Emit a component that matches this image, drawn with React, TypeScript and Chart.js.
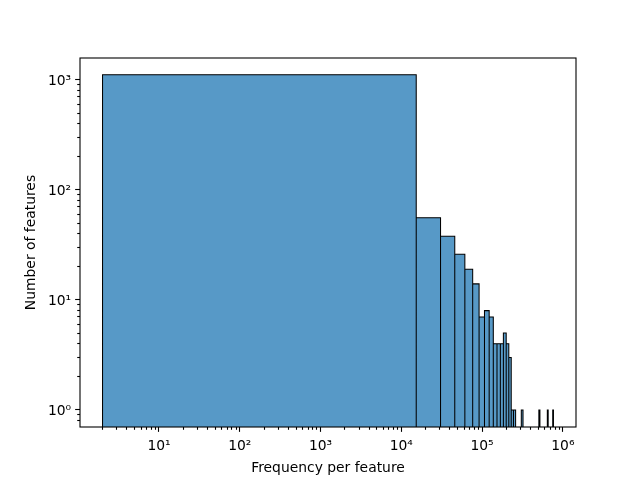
import React, { useEffect, useRef } from "react";
import { Chart, registerables } from "chart.js";

Chart.register(...registerables);

// Histogram: equal-width bins (linear) shown on a log x axis
const binStart = 2;
const binWidth = 15300;
const counts = [
  1115, 56, 38, 26, 19, 14, 7, 8, 7, 4,
  4, 4, 5, 4, 3, 1, 1, 0, 0, 0,
  1, 0, 0, 0, 0, 0, 0, 0, 0, 0,
  0, 0, 0, 1, 0, 0, 0, 0, 0, 0,
  0, 0, 1, 0, 0, 0, 0, 0, 0, 1,
];

const xMajorTicks = [1e1, 1e2, 1e3, 1e4, 1e5, 1e6];
const xTickLabels = ["10¹", "10²", "10³", "10⁴", "10⁵", "10⁶"];
const yMajorTicks = [1, 10, 100, 1000];
const yTickLabels = ["10⁰", "10¹", "10²", "10³"];
const xMinorDecades = [1, 10, 100, 1000, 10000, 100000];
const yMinorDecades = [0.1, 1, 10, 100];
const minorMultipliers = [2, 3, 4, 5, 6, 7, 8, 9];

const xMin = 1.052;
const xMax = 1.455e6;
const yMin = 0.705;
const yMax = 1583;

const FONT = "'DejaVu Sans', sans-serif";
const FS = 13.89;

function minorTicks(decades: number[], lo: number, hi: number) {
  const out: number[] = [];
  decades.forEach((d) => minorMultipliers.forEach((m) => {
    const v = m * d;
    if (v >= lo && v <= hi) out.push(v);
  }));
  return out;
}

const framePlugin = {
  id: "frame",
  afterDatasetsDraw(chart: any) {
    const { ctx, chartArea } = chart;
    ctx.save();
    ctx.strokeStyle = "#000";
    ctx.lineWidth = 1.1;
    ctx.strokeRect(chartArea.left, chartArea.top, chartArea.right - chartArea.left, chartArea.bottom - chartArea.top);
    ctx.restore();
  },
};

export default function App() {
  const ref = useRef<HTMLCanvasElement | null>(null);

  useEffect(() => {
    if (!ref.current) return;
    const floor = 0.01;
    const pts: { x: number; y: number }[] = [];
    counts.forEach((c, i) => {
      if (c <= 0) return;
      const x0 = binStart + i * binWidth;
      const x1 = x0 + binWidth;
      pts.push({ x: x0, y: floor }, { x: x0, y: c }, { x: x1, y: c }, { x: x1, y: floor });
    });

    const xMinor = minorTicks(xMinorDecades, xMin, xMax);
    const yMinor = minorTicks(yMinorDecades, yMin, yMax);

    const tickGrid = (len: number) => ({
      display: true,
      drawOnChartArea: false,
      drawTicks: true,
      tickLength: len,
      tickColor: "#000",
      tickWidth: 1.1,
    });

    const chart = new Chart(ref.current, {
      type: "line",
      data: {
        datasets: [
          {
            data: pts,
            xAxisID: "x",
            yAxisID: "y",
            borderColor: "#000",
            borderWidth: 1.04,
            backgroundColor: "rgba(31,119,180,0.75)",
            fill: "start",
            pointRadius: 0,
            tension: 0,
            borderJoinStyle: "miter",
          } as any,
        ],
      },
      options: {
        animation: false,
        responsive: false,
        devicePixelRatio: 1,
        layout: { padding: { left: 0, right: 64, top: 58, bottom: 0 } },
        plugins: { legend: { display: false }, tooltip: { enabled: false } },
        scales: {
          x: {
            type: "logarithmic",
            position: "bottom",
            weight: 1,
            min: xMin,
            max: xMax,
            afterBuildTicks: (s: any) => { s.ticks = xMajorTicks.map((v) => ({ value: v })); },
            afterFit: (s: any) => { s.height = 53; },
            grid: tickGrid(4.86),
            border: { display: false },
            ticks: {
              autoSkip: false,
              maxRotation: 0,
              padding: 6,
              color: "#000",
              font: { family: FONT, size: FS },
              callback: (_v: any, i: number) => xTickLabels[i],
            },
            title: {
              display: true,
              text: "Frequency per feature",
              color: "#000",
              font: { family: FONT, size: FS },
              padding: { top: 0, bottom: 3 },
            },
          },
          xMinor: {
            type: "logarithmic",
            position: "bottom",
            weight: 0,
            min: xMin,
            max: xMax,
            afterBuildTicks: (s: any) => { s.ticks = xMinor.map((v) => ({ value: v })); },
            afterFit: (s: any) => { s.height = 0; },
            grid: tickGrid(2.78),
            border: { display: false },
            ticks: { display: false, autoSkip: false },
          },
          y: {
            type: "logarithmic",
            position: "left",
            weight: 1,
            min: yMin,
            max: yMax,
            afterBuildTicks: (s: any) => { s.ticks = yMajorTicks.map((v) => ({ value: v })); },
            afterFit: (s: any) => { s.width = 80; },
            grid: tickGrid(4.86),
            border: { display: false },
            ticks: {
              autoSkip: false,
              padding: 4,
              labelOffset: 1.5,
              color: "#000",
              font: { family: FONT, size: FS },
              callback: (_v: any, i: number) => yTickLabels[i],
            },
            title: {
              display: true,
              text: "Number of features",
              color: "#000",
              font: { family: FONT, size: FS },
              padding: { top: 23, bottom: 0 },
            },
          },
          yMinor: {
            type: "logarithmic",
            position: "left",
            weight: 0,
            min: yMin,
            max: yMax,
            afterBuildTicks: (s: any) => { s.ticks = yMinor.map((v) => ({ value: v })); },
            afterFit: (s: any) => { s.width = 0; },
            grid: tickGrid(2.78),
            border: { display: false },
            ticks: { display: false, autoSkip: false },
          },
        } as any,
      },
      plugins: [framePlugin],
    });
    return () => chart.destroy();
  }, []);

  return (
    <div style={{ position: "absolute", left: 0, top: 0, width: 640, height: 480, background: "#fff" }}>
      <canvas ref={ref} width={640} height={480} style={{ display: "block" }} />
    </div>
  );
}
